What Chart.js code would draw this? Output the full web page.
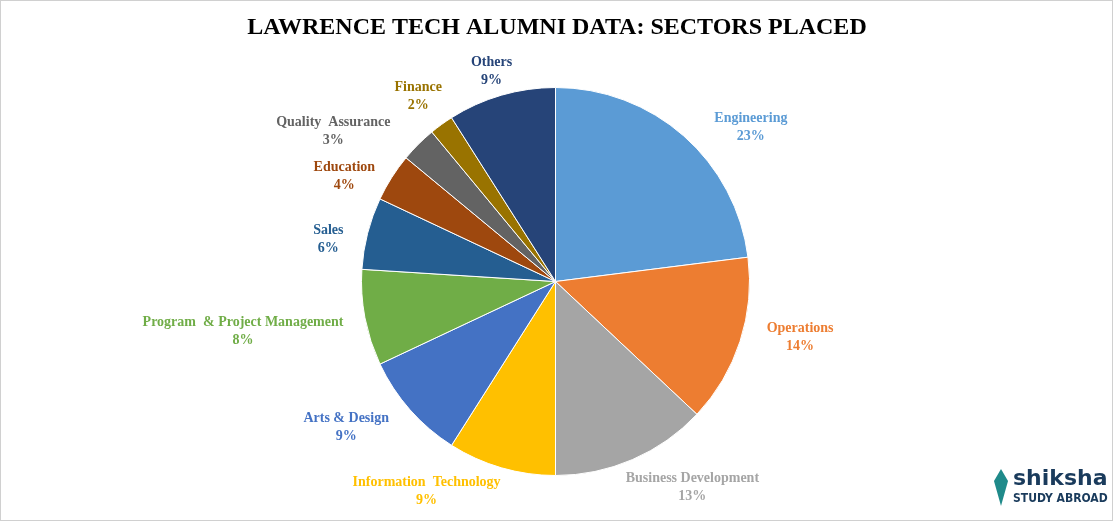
<!DOCTYPE html>
<html><head><meta charset="utf-8">
<script src="https://cdn.jsdelivr.net/npm/chart.js@4"></script>
<style>html,body{margin:0;padding:0;background:#fff}#w{width:1111px;height:519px;border:1px solid #d0d0d0}</style>
</head><body><div id="w"><canvas id="c"></canvas></div>
<script>
const categories=["Engineering","Operations","Business Development","Information  Technology","Arts & Design","Program  & Project Management","Sales","Education","Quality  Assurance","Finance","Others"];
const values=[23,14,13,9,9,8,6,4,3,2,9];
const colors=["#5B9BD5","#ED7D31","#A5A5A5","#FFC000","#4472C4","#70AD47","#255E91","#9E480E","#636363","#997300","#264478"];
const labelShift=[[32,12],[20,-13],[2,2],[-67,-3],[-20,-1],[-14,8],[-17,13],[-13,14],[-28,7],[-3,-6],[-2,3]];
const title="LAWRENCE TECH ALUMNI DATA: SECTORS PLACED";
const labelPlugin={id:'lbl',afterDraw(ch){
 const ctx=ch.ctx;ctx.save();
 ctx.fillStyle='#000';ctx.font='bold 24px "Liberation Serif"';ctx.textAlign='center';ctx.textBaseline='middle';
 ctx.fillText(title,556,27);
 const meta=ch.getDatasetMeta(0);
 ctx.font='bold 14px "Liberation Serif"';ctx.textAlign='center';
 meta.data.forEach((a,i)=>{
  const mid=(a.startAngle+a.endAngle)/2, r=a.outerRadius+28;
  let x=a.x+Math.cos(mid)*r, y=a.y+Math.sin(mid)*r;
  const c=Math.cos(mid), w=ctx.measureText(categories[i]).width;
  if(Math.abs(c)>=0.3) x+= c>0? w/2-20 : -(w/2-20);
  x+=labelShift[i][0]; y+=labelShift[i][1];
  ctx.fillStyle=colors[i];
  ctx.fillText(categories[i],x,y-9);
  ctx.fillText(values[i]+'%',x,y+9);
 });
 ctx.textAlign='left';ctx.fillStyle='#1a3b5c';ctx.font='bold 22px "DejaVu Sans"';
 ctx.fillText('shiksha',1012,478);
 ctx.font='bold 12px "DejaVu Sans Condensed"';ctx.fillText('STUDY ABROAD',1012,498);
 ctx.fillStyle='#1f8a8a';ctx.beginPath();ctx.moveTo(1000,468);ctx.lineTo(1007,480);ctx.lineTo(1000,505);ctx.lineTo(993,480);ctx.closePath();ctx.fill();
 ctx.restore();
}};
new Chart(document.getElementById('c'),{type:'pie',
 data:{labels:categories,datasets:[{data:values,backgroundColor:colors,borderColor:'#fff',borderWidth:1}]},
 options:{responsive:true,maintainAspectRatio:false,animation:false,
  layout:{padding:{top:86,bottom:44,left:0,right:2}},
  plugins:{legend:{display:false},tooltip:{enabled:false}}},
 plugins:[labelPlugin]});
</script></body></html>
